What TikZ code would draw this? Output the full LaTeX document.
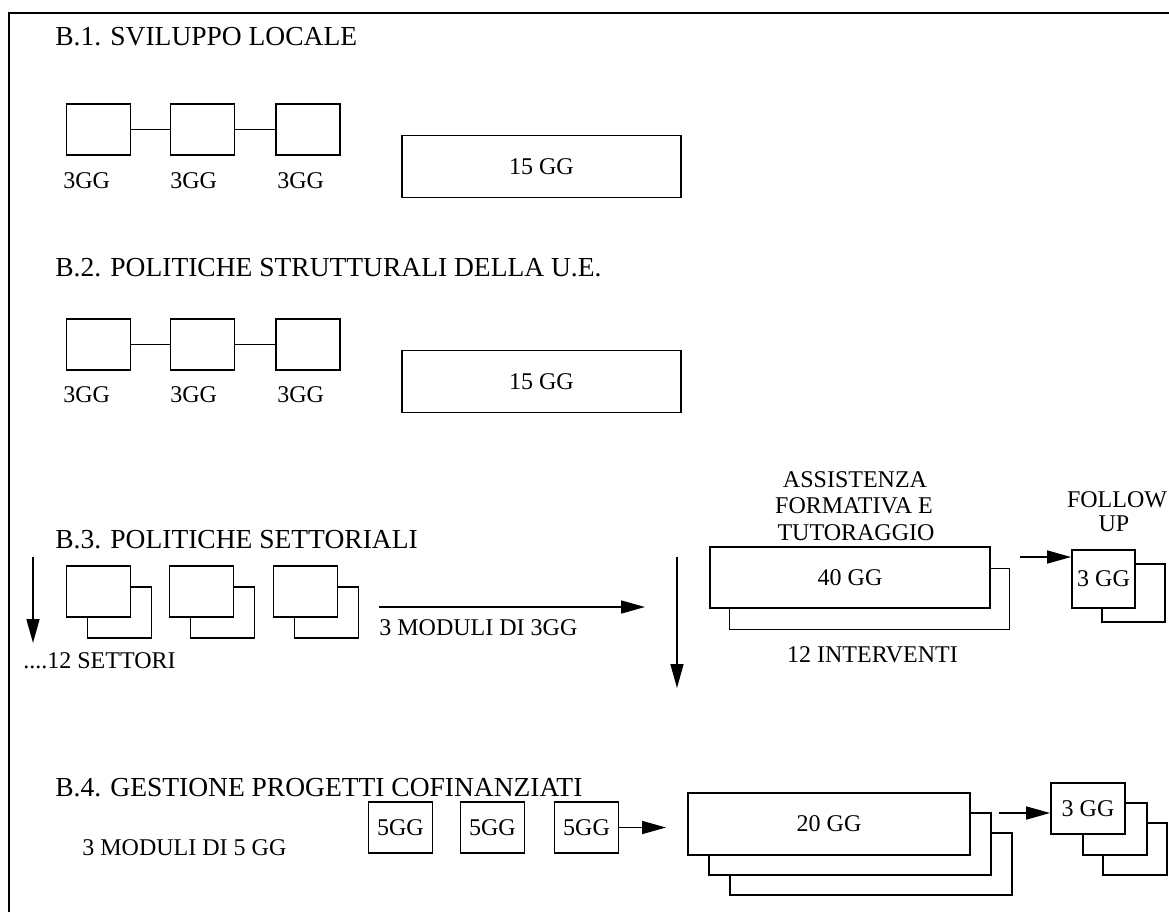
\documentclass[tikz,border=0pt]{standalone}
\usepackage{fontspec}
\setmainfont{Liberation Serif}
\usetikzlibrary{arrows.meta}

\begin{document}
\begin{tikzpicture}[x=0.5pt,y=-0.5pt,
  gbox/.style={draw,line width=0.9pt,fill=white,inner sep=0pt,font=\fontsize{12}{14}\selectfont},
  sq/.style={gbox,minimum width=32pt,minimum height=25.5pt},
  ttl/.style={anchor=base west,inner sep=0pt,font=\fontsize{13.75}{16}\selectfont},
  lbl/.style={anchor=base west,inner sep=0pt,font=\fontsize{12}{14}\selectfont},
  clbl/.style={lbl,anchor=base},
  arr/.style={line width=0.8pt,-{Triangle[length=12pt,width=6.5pt]}}]

\useasboundingbox (0,0) rectangle (1169,912);

% cornice
\draw[line width=1.4pt] (9,912) -- (9,13) -- (1169,13);


% B.1
\node[ttl] (t1) at (55,45) {B.1. SVILUPPO LOCALE};

\node[sq] (a1) at (98.5,129.5) {};
\node[sq] (a2) at (202.5,129.5) {};
\node[sq] (a3) at (308,129.5) {};
\draw[line width=0.9pt] (a1) -- (a2);
\draw[line width=0.9pt] (a2) -- (a3);

\node[lbl] (la1) at (63,188) {3GG};
\node[lbl] (la2) at (170,188) {3GG};
\node[lbl] (la3) at (277,188) {3GG};

\node[gbox,minimum width=139.5pt,minimum height=31pt] (a4) at (541.5,166.5) {15 GG};


% B.2
\node[ttl] (t2) at (55,276) {B.2. POLITICHE STRUTTURALI DELLA U.E.};

\node[sq] (b1) at (98.5,344.5) {};
\node[sq] (b2) at (202.5,344.5) {};
\node[sq] (b3) at (308,344.5) {};
\draw[line width=0.9pt] (b1) -- (b2);
\draw[line width=0.9pt] (b2) -- (b3);

\node[lbl] (lb1) at (63,402) {3GG};
\node[lbl] (lb2) at (170,402) {3GG};
\node[lbl] (lb3) at (277,402) {3GG};

\node[gbox,minimum width=139.5pt,minimum height=31pt] (b4) at (541.5,381.5) {15 GG};


% B.3
\node[ttl] (t3) at (55,548) {B.3. POLITICHE SETTORIALI};

\node[sq] (c1b) at (119.5,612.5) {};
\node[sq] (c2b) at (222.5,612.5) {};
\node[sq] (c3b) at (326.5,612.5) {};
\node[sq] (c1) at (98.5,591.5) {};
\node[sq] (c2) at (201.5,591.5) {};
\node[sq] (c3) at (305.5,591.5) {};

\coordinate (s0) at (33,557);
\coordinate (s1) at (33,643);
\draw[arr] (s0) -- (s1);
\node[lbl] (ls) at (23,668) {....12 SETTORI};

\coordinate (m0) at (379,607);
\coordinate (m1) at (645,607);
\draw[arr] (m0) -- (m1);
\node[lbl] (lm) at (379,635) {3 MODULI DI 3GG};

\coordinate (v0) at (677,557);
\coordinate (v1) at (677,688);
\draw[arr] (v0) -- (v1);

\node[clbl] (as1) at (855,487) {ASSISTENZA};
\node[clbl] (as2) at (854,513) {FORMATIVA E};
\node[clbl] (as3) at (856,540) {TUTORAGGIO};

\node[gbox,minimum width=140pt,minimum height=30.5pt] (tub) at (869.5,599) {};
\node[gbox,minimum width=140pt,minimum height=30.5pt] (tu) at (850,577.5) {40 GG};
\node[clbl] (li) at (872.5,662) {12 INTERVENTI};

\node[clbl] (fo1) at (1117,507) {FOLLOW};
\node[clbl] (fo2) at (1114,531) {UP};

\node[gbox,minimum width=31.5pt,minimum height=29pt] (fub) at (1133.5,593) {};
\node[gbox,minimum width=31.5pt,minimum height=29pt] (fu) at (1103.5,579) {3 GG};

\coordinate (f0) at (1020,557);
\draw[arr] (f0) -- (f0 -| fu.west);


% B.4
\node[ttl] (t4) at (55,796) {B.4. GESTIONE PROGETTI COFINANZIATI};

\node[lbl] (lg) at (82,855) {3 MODULI DI 5 GG};

\node[sq] (g1) at (400.5,827.5) {5GG};
\node[sq] (g2) at (492.5,827.5) {5GG};
\node[sq] (g3) at (586.5,827.5) {5GG};

\coordinate (p1) at (666,827.5);
\draw[arr] (g3.east) -- (p1);

\node[gbox,minimum width=141pt,minimum height=31pt] (pr3) at (871,864) {};
\node[gbox,minimum width=141pt,minimum height=31pt] (pr2) at (850,844) {};
\node[gbox,minimum width=141pt,minimum height=31pt] (pr1) at (829,824) {20 GG};

\node[gbox,minimum width=32pt,minimum height=26pt] (k3) at (1135,849) {};
\node[gbox,minimum width=32pt,minimum height=26pt] (k2) at (1115,829) {};
\node[gbox,minimum width=37pt,minimum height=25.5pt] (k1) at (1088,808.5) {3 GG};

\coordinate (h0) at (999,813);
\draw[arr] (h0) -- (h0 -| k1.west);


\end{tikzpicture}
\end{document}
